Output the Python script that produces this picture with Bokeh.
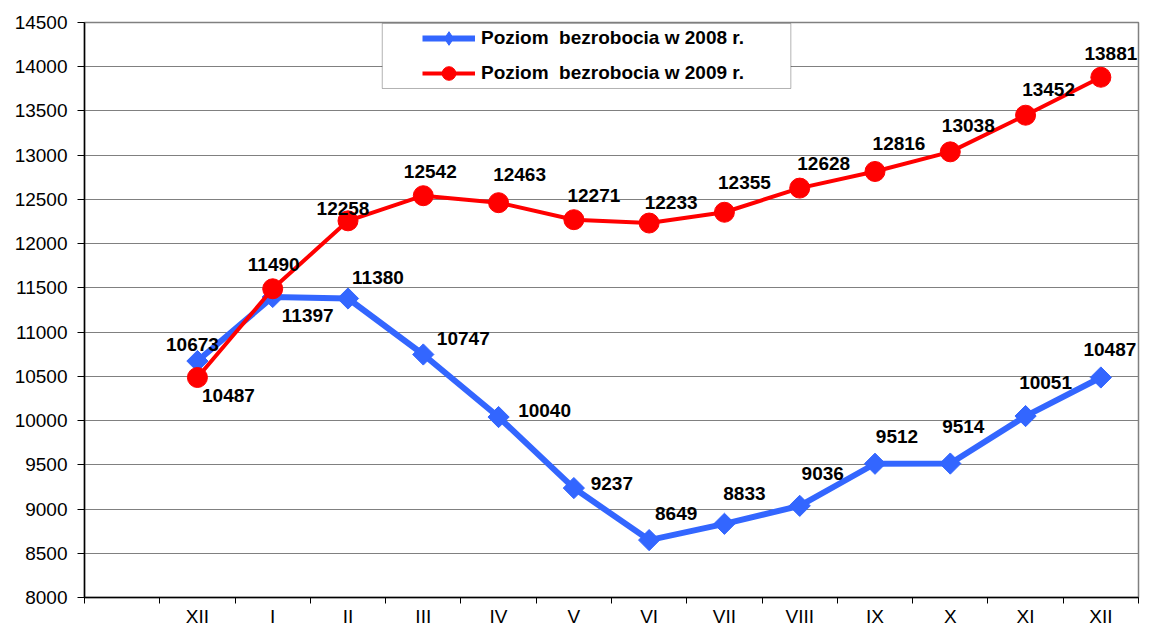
import numpy as np
from bokeh.plotting import figure
from bokeh.models import (ColumnDataSource, LabelSet, Legend, LegendItem, Range1d,
                          FixedTicker, BoxAnnotation)
from bokeh.core.properties import value
from bokeh.embed import file_html
from bokeh.resources import INLINE

# ---- data ----
months = ["XII", "I", "II", "III", "IV", "V", "VI", "VII", "VIII", "IX", "X", "XI", "XII"]
y2008 = [10673, 11397, 11380, 10747, 10040, 9237, 8649, 8833, 9036, 9512, 9514, 10051, 10487]
y2009 = [10487, 11490, 12258, 12542, 12463, 12271, 12233, 12355, 12628, 12816, 13038, 13452, 13881]
name2008 = "Poziom  bezrobocia w 2008 r."
name2009 = "Poziom  bezrobocia w 2009 r."
y_ticks = list(range(8000, 14501, 500))

# label placement (pixels, screen: +x right, +y up)
dx2008 = [-5, 35, 30, 40, 46, 38, 27, 20, 23, 22, 13, 20, 9]
dy2008 = [17, -19, 21, 16, 7, 5, 27, 30, 32, 27, 37, 34, 28]
dx2009 = [31, 1, -5, 7, 21, 20, 22, 20, 24, 24, 18, 23, 10]
dy2009 = [-18, 24, 12, 24, 28, 24, 21, 30, 25, 28, 26, 26, 24]

n_slots = len(months) + 1          # first slot is empty
centers = [i + 1.5 for i in range(len(months))]
bounds = list(range(n_slots + 1))

FONT = "Liberation Sans"
BLUE = "#3366FF"
RED = "#FF0000"

p = figure(width=1146, height=630, output_backend="svg", toolbar_location=None,
           x_range=Range1d(0, n_slots), y_range=Range1d(8000, 14500),
           min_border_left=84, min_border_right=8, min_border_top=22, min_border_bottom=33)
p.background_fill_color = "white"
p.border_fill_color = "white"
p.outline_line_color = "#808080"
p.outline_line_width = 1.5

# axes
p.xaxis.ticker = FixedTicker(ticks=centers, minor_ticks=bounds)
p.xaxis.major_label_overrides = {c: m for c, m in zip(centers, months)}
p.xaxis.major_tick_line_color = None
p.xaxis.minor_tick_out = 6
p.xaxis.minor_tick_in = 0
p.xaxis.minor_tick_line_color = "black"
p.xaxis.major_label_standoff = 2
p.yaxis.ticker = FixedTicker(ticks=y_ticks)
p.yaxis.major_tick_out = 7
p.yaxis.major_tick_in = 0
p.yaxis.minor_tick_line_color = None
p.yaxis.major_label_standoff = 10
for ax in (p.xaxis, p.yaxis):
    ax.axis_line_color = "black"
    ax.axis_line_width = 1.5
    ax.major_tick_line_width = 1
    ax.minor_tick_line_width = 1
    ax.major_label_text_font = FONT
    ax.major_label_text_font_size = "19px"
    ax.major_label_text_color = "black"

p.xgrid.grid_line_color = None
p.ygrid.ticker = FixedTicker(ticks=y_ticks)
p.ygrid.grid_line_color = "#808080"
p.ygrid.grid_line_width = 1.2

src08 = ColumnDataSource(dict(x=centers, y=y2008, t=[str(v) for v in y2008], dx=dx2008, dy=dy2008))
src09 = ColumnDataSource(dict(x=centers, y=y2009, t=[str(v) for v in y2009], dx=dx2009, dy=dy2009))

l08 = p.line("x", "y", source=src08, line_color=BLUE, line_width=6)
m08 = p.scatter("x", "y", source=src08, marker="square", angle=np.pi / 4, size=15,
                fill_color=BLUE, line_color=BLUE)
l09 = p.line("x", "y", source=src09, line_color=RED, line_width=4)
m09 = p.scatter("x", "y", source=src09, marker="circle", size=20,
                fill_color=RED, line_color=RED)

# legend-only marker glyphs (a single NaN point, never drawn on the plot)
lg08 = p.scatter(x=[np.nan], y=[np.nan], marker="diamond", fill_color=BLUE, line_color=BLUE)
lg09 = p.scatter(x=[np.nan], y=[np.nan], marker="circle", fill_color=RED, line_color=RED)

for src in (src08, src09):
    p.add_layout(LabelSet(x="x", y="y", text="t", source=src, x_offset="dx", y_offset="dy",
                          text_align="center", text_baseline="middle",
                          text_font=value(FONT), text_font_style="bold",
                          text_font_size="19px", text_color="black"))

# legend frame
p.add_layout(BoxAnnotation(left=3.955, right=9.382, top=14489, bottom=13754,
                           fill_color="white", fill_alpha=1.0,
                           line_color="black", line_width=1, level="overlay"))

legend = Legend(items=[LegendItem(label=name2008, renderers=[l08, lg08]),
                       LegendItem(label=name2009, renderers=[l09, lg09])],
                location=(338, 507), orientation="vertical",
                padding=0, margin=0, spacing=1,
                glyph_width=53, glyph_height=34, label_height=34, label_standoff=6,
                border_line_alpha=0, background_fill_alpha=0,
                label_text_font=FONT, label_text_font_style="bold",
                label_text_font_size="19px", label_text_color="black")
legend.level = "overlay"
p.add_layout(legend, "center")

open("out.html", "w").write(file_html(p, INLINE))
